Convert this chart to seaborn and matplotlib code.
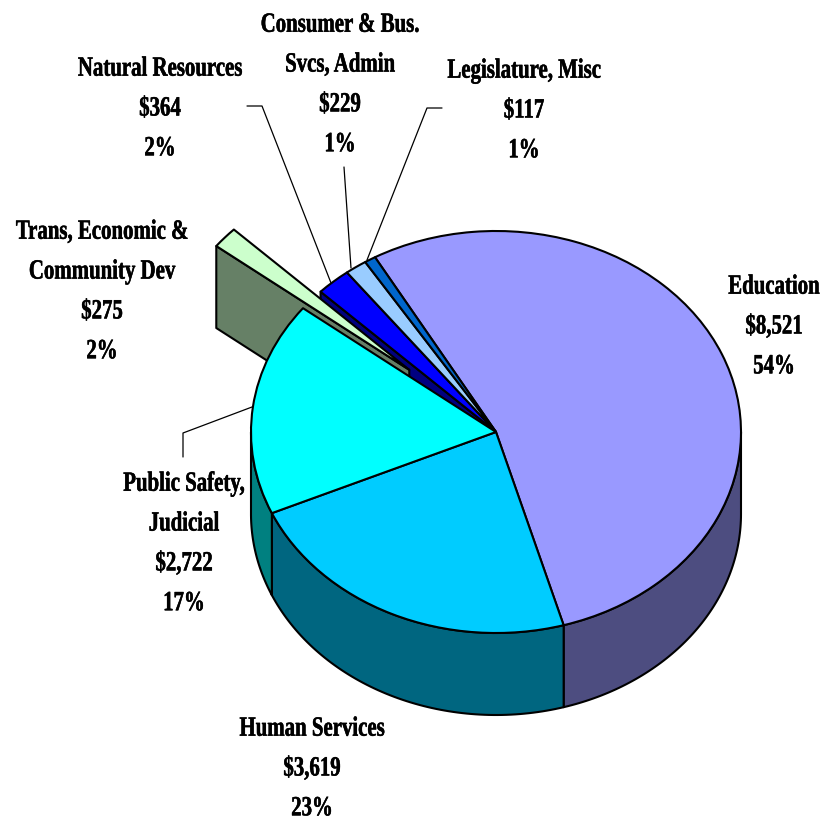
import os
import tempfile
import numpy as np
import matplotlib
matplotlib.use("Agg")
import matplotlib.pyplot as plt
import matplotlib.patheffects as pe
from matplotlib import font_manager as fm
from fontTools.ttLib import TTFont
import seaborn as sns

# ---- data ----
categories = ["Education", "Human Services", "Public Safety,\nJudicial",
              "Trans, Economic &\nCommunity Dev", "Natural Resources",
              "Consumer & Bus.\nSvcs, Admin", "Legislature, Misc"]
amounts = [8521, 3619, 2722, 275, 364, 229, 117]
amount_labels = ["$8,521", "$3,619", "$2,722", "$275", "$364", "$229", "$117"]
percent_labels = ["54%", "23%", "17%", "2%", "2%", "1%", "1%"]
explode = [0, 0, 0, 0.47, 0, 0, 0]

# ---- style ----
slice_colors = ["#9999FF", "#00CCFF", "#00FFFF", "#CCFFCC", "#0000FF", "#99CCFF", "#0066CC"]
label_centers = [(774, 327), (312, 769), (184, 544), (102, 292), (160, 109), (340, 85), (524, 111)]
leaders = [[(183, 457), (183, 433), (252, 407)],
           [(247, 106), (262, 106), (331, 283)],
           [(344, 167), (351, 268)],
           [(442, 108), (427, 108), (367, 260)]]
W, H = 823, 822
CX, CY, RX, RY, DEPTH_PX = 496, 432, 245, 201, 82
START = 119.6
FONT_PT = 20
SQUEEZE = 0.75


def condensed_font(family, squeeze):
    """Write a horizontally narrowed copy of a bold installed font, return its properties."""
    src = fm.findfont(fm.FontProperties(family=family, weight="bold"))
    font = TTFont(src)
    glyf = font["glyf"]
    for name in font.getGlyphOrder():
        g = glyf[name]
        if g.isComposite():
            for comp in g.components:
                comp.x = int(round(comp.x * squeeze))
        elif g.numberOfContours > 0:
            g.coordinates.scale((squeeze, 1))
            g.coordinates.toInt()
        if hasattr(g, "program"):
            g.removeHinting()
        g.recalcBounds(glyf)
        adv, lsb = font["hmtx"][name]
        font["hmtx"][name] = (int(round(adv * squeeze)), int(round(lsb * squeeze)))
    for tag in ("fpgm", "prep", "cvt ", "hdmx", "VDMX", "LTSH", "GPOS", "GSUB", "GDEF"):
        if tag in font:
            del font[tag]
    if "kern" in font:
        for sub in font["kern"].kernTables:
            sub.kernTable = {k: int(round(v * squeeze)) for k, v in sub.kernTable.items()}
    path = os.path.join(tempfile.mkdtemp(), "narrow_serif_bold.ttf")
    font.save(path)
    return fm.FontProperties(fname=path, size=FONT_PT)


sns.set_theme(style="white")
palette = sns.color_palette(slice_colors)
wall_colors = [tuple(c * 0.5 for c in col) for col in palette]

fig = plt.figure(figsize=(W / 100, H / 100), dpi=100)
ax = fig.add_axes([0, 0, 1, 1])


def px(x, y):
    return (x - CX) / RX, (CY - y) / RY


depth = DEPTH_PX / RY
edge = dict(edgecolor="black", linewidth=1.5, joinstyle="round")
wedges, _ = ax.pie(amounts, explode=explode, colors=palette, startangle=START,
                   counterclock=False, radius=1, wedgeprops=edge)

shares = np.array(amounts) / np.sum(amounts) * 360
ends = START - np.cumsum(shares)
starts = np.r_[START, ends[:-1]]

# curved outer walls of the front slices
for a, b, col in zip(starts, ends, wall_colors):
    hi, lo = min(a, 0), max(b, -180)
    if hi <= lo:
        continue
    t = np.radians(np.linspace(hi, lo, 80))
    xs, ys = np.cos(t), np.sin(t)
    ax.fill(np.r_[xs, xs[::-1]], np.r_[ys, ys[::-1] - depth], facecolor=col, zorder=2, **edge)


def radial_wall(i, angle, z):
    mid = np.radians((starts[i] + ends[i]) / 2)
    ox, oy = explode[i] * np.cos(mid), explode[i] * np.sin(mid)
    ex, ey = ox + np.cos(np.radians(angle)), oy + np.sin(np.radians(angle))
    ax.fill([ox, ex, ex, ox], [oy, ey, ey - depth, oy - depth],
            facecolor=wall_colors[i], zorder=z, **edge)


radial_wall(4, starts[4], 1.5)   # natural resources cut face
for i in (4, 5, 6):
    wedges[i].set_zorder(3)
wedges[0].set_zorder(3)
radial_wall(3, starts[3], 4)     # exploded slice cut face
wedges[3].set_zorder(5)
wedges[1].set_zorder(6)
wedges[2].set_zorder(6)

for line in leaders:
    pts = np.array([px(*p) for p in line])
    ax.plot(pts[:, 0], pts[:, 1], color="black", lw=0.9, zorder=1)

label_font = condensed_font("Liberation Serif", SQUEEZE)
for name, amt, pct, (lx, ly) in zip(categories, amount_labels, percent_labels, label_centers):
    x, y = px(lx, ly)
    ax.text(x, y, f"{name}\n{amt}\n{pct}", ha="center", va="center", ma="center",
            fontproperties=label_font, color="black", linespacing=1.78, zorder=10,
            parse_math=False,
            path_effects=[pe.withStroke(linewidth=0.35, foreground="black")])

ax.set_aspect("auto")
ax.set_xlim(px(0, 0)[0], px(W, 0)[0])
ax.set_ylim(px(0, H)[1], px(0, 0)[1])
ax.axis("off")
fig.savefig("out.png", dpi=100, facecolor="white")
